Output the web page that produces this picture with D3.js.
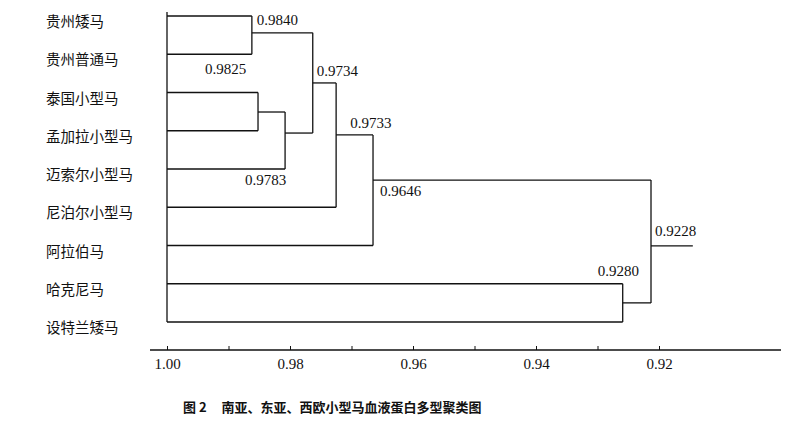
<!DOCTYPE html>
<html><head><meta charset="utf-8">
<script src="https://cdn.jsdelivr.net/npm/d3@7"></script>
<style>body{margin:0;background:#fff}</style>
</head><body><div id="chart"></div>
<script>
const width = 798, height = 429;
const leaves = ["贵州矮马","贵州普通马","泰国小型马","孟加拉小型马","迈索尔小型马","尼泊尔小型马","阿拉伯马","哈克尼马","设特兰矮马"];
// merges: children (leaf index or node name), drawn height, label, row position of joint
const nodeNames   = ["A","B","C","D","E","F","G","R"];
const nodeKids    = [[0,1],[2,3],["B",4],["A","C"],["D",5],["E",6],[7,8],["F","G"]];
const nodeHeights = [0.9862,0.9852,0.9808,0.9763,0.9725,0.9665,0.9259,0.9213];
const nodeRows    = [0.44,2.51,3.06,1.75,3.11,4.29,7.5,6.01];
const nodeLabels  = ["0.9840","0.9825","0.9783","0.9734","0.9733","0.9646","0.9280","0.9228"];
const rootTail = 0.9145;
const tickValues = [1.00,0.99,0.98,0.97,0.96,0.95,0.94,0.93,0.92];
const tickLabels = ["1.00","","0.98","","0.96","","0.94","","0.92"];

const svg = d3.select("#chart").append("svg").attr("width", width).attr("height", height)
  .style("font-family","'Liberation Serif','DejaVu Serif',serif");

const x = d3.scaleLinear().domain([1.00, 0.92]).range([167, 659]);
const y = d3.scaleLinear().domain([0, 8]).range([16, 322]);

const pos = {};
leaves.forEach((d, i) => pos[i] = {x: x(1.00), y: y(i)});
nodeNames.forEach((n, i) => pos[n] = {x: x(nodeHeights[i]), y: y(nodeRows[i])});

const g = svg.append("g").attr("fill","none").attr("stroke","#111").attr("stroke-width",1.3);
// shared left edge
g.append("line").attr("x1", x(1.00)).attr("x2", x(1.00)).attr("y1", y(0) - 4).attr("y2", y(8));
nodeNames.forEach((n, i) => {
  const nx = pos[n].x;
  const ys = nodeKids[i].map(k => pos[k].y);
  g.append("line").attr("x1", nx).attr("x2", nx).attr("y1", d3.min(ys)).attr("y2", d3.max(ys));
  nodeKids[i].forEach(k => {
    g.append("line").attr("x1", pos[k].x).attr("x2", nx).attr("y1", pos[k].y).attr("y2", pos[k].y);
  });
});
g.append("line").attr("x1", pos.R.x).attr("x2", x(rootTail)).attr("y1", pos.R.y).attr("y2", pos.R.y);

// leaf labels
svg.append("g").selectAll("text").data(leaves).join("text")
  .attr("x", 46).attr("y", (d, i) => y(i) + 11)
  .style("font-family","'Noto Sans CJK SC',sans-serif").style("font-size","14.5px").attr("fill","#111")
  .text(d => d);

// node labels, offsets relative to joint
const labelOffsets = [[5,-8],[-53,-38],[-40,52],[4,-7],[14,-7],[7,16],[-25,-27],[4,-10]];
svg.append("g").selectAll("text").data(nodeNames).join("text")
  .attr("x", (n, i) => pos[n].x + labelOffsets[i][0])
  .attr("y", (n, i) => pos[n].y + labelOffsets[i][1])
  .style("font-size","15px").attr("fill","#111")
  .text((n, i) => nodeLabels[i]);

// axis
const ay = 350;
const axis = svg.append("g").attr("transform", `translate(0,${ay})`)
  .call(d3.axisBottom(x).tickValues(tickValues).tickFormat((d, i) => tickLabels[i]).tickSize(-4).tickPadding(8));
axis.select(".domain").remove();
axis.append("line").attr("x1", 150).attr("x2", 781).attr("stroke","#111").attr("stroke-width",1.3);
axis.selectAll(".tick line").attr("stroke","#111");
axis.selectAll(".tick text").style("font-family","'Liberation Serif',serif").style("font-size","15px").attr("fill","#111");

svg.append("text").attr("x", 183).attr("y", 412)
  .style("font-family","'Noto Sans CJK SC',sans-serif").style("font-size","13px").style("font-weight","bold")
  .attr("fill","#111").attr("xml:space","preserve")
  .text("图 2     南亚、东亚、西欧小型马血液蛋白多型聚类图");
</script></body></html>
